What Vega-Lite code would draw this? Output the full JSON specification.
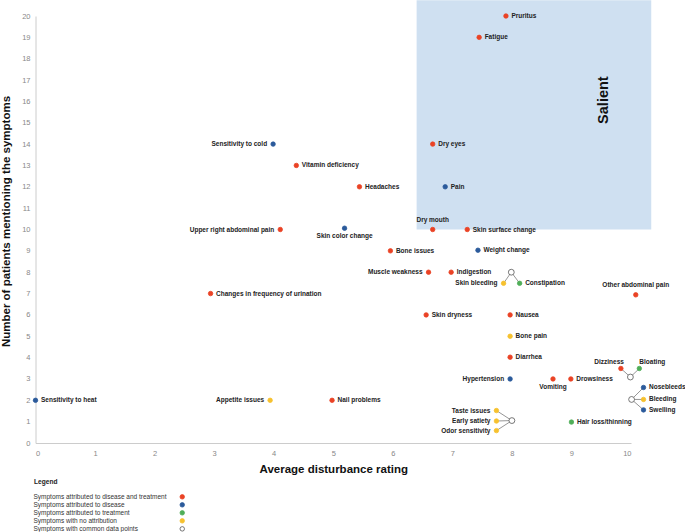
{
  "$schema": "https://vega.github.io/schema/vega-lite/v6.json",
  "width": 595.5,
  "height": 427,
  "autosize": {"type": "none"},
  "padding": {"left": 35.5, "top": 16, "right": 54, "bottom": 89},
  "background": "white",
  "datasets": {
    "symptoms": [
      {"name": "Pruritus", "rating": 7.9, "patients": 20, "attribution": "Symptoms attributed to disease and treatment"},
      {"name": "Fatigue", "rating": 7.45, "patients": 19, "attribution": "Symptoms attributed to disease and treatment"},
      {"name": "Dry eyes", "rating": 6.67, "patients": 14, "attribution": "Symptoms attributed to disease and treatment"},
      {"name": "Sensitivity to cold", "rating": 3.99, "patients": 14, "attribution": "Symptoms attributed to disease"},
      {"name": "Vitamin deficiency", "rating": 4.38, "patients": 13, "attribution": "Symptoms attributed to disease and treatment"},
      {"name": "Headaches", "rating": 5.44, "patients": 12, "attribution": "Symptoms attributed to disease and treatment"},
      {"name": "Pain", "rating": 6.88, "patients": 12, "attribution": "Symptoms attributed to disease"},
      {"name": "Upper right abdominal pain", "rating": 4.11, "patients": 10, "attribution": "Symptoms attributed to disease and treatment"},
      {"name": "Skin color change", "rating": 5.19, "patients": 10.06, "attribution": "Symptoms attributed to disease"},
      {"name": "Dry mouth", "rating": 6.67, "patients": 10, "attribution": "Symptoms attributed to disease and treatment"},
      {"name": "Skin surface change", "rating": 7.25, "patients": 10, "attribution": "Symptoms attributed to disease and treatment"},
      {"name": "Bone issues", "rating": 5.96, "patients": 9, "attribution": "Symptoms attributed to disease and treatment"},
      {"name": "Weight change", "rating": 7.43, "patients": 9.03, "attribution": "Symptoms attributed to disease"},
      {"name": "Muscle weakness", "rating": 6.6, "patients": 8, "attribution": "Symptoms attributed to disease and treatment"},
      {"name": "Indigestion", "rating": 6.98, "patients": 8, "attribution": "Symptoms attributed to disease and treatment"},
      {"name": "Skin bleeding", "rating": 7.86, "patients": 7.48, "attribution": "Symptoms with no attribution"},
      {"name": "Constipation", "rating": 8.13, "patients": 7.48, "attribution": "Symptoms attributed to treatment"},
      {"name": "Changes in frequency of urination", "rating": 2.94, "patients": 7, "attribution": "Symptoms attributed to disease and treatment"},
      {"name": "Other abdominal pain", "rating": 10.08, "patients": 6.94, "attribution": "Symptoms attributed to disease and treatment"},
      {"name": "Skin dryness", "rating": 6.56, "patients": 6, "attribution": "Symptoms attributed to disease and treatment"},
      {"name": "Nausea", "rating": 7.97, "patients": 6, "attribution": "Symptoms attributed to disease and treatment"},
      {"name": "Bone pain", "rating": 7.97, "patients": 5, "attribution": "Symptoms with no attribution"},
      {"name": "Diarrhea", "rating": 7.97, "patients": 4.02, "attribution": "Symptoms attributed to disease and treatment"},
      {"name": "Hypertension", "rating": 7.97, "patients": 3, "attribution": "Symptoms attributed to disease"},
      {"name": "Vomiting", "rating": 8.69, "patients": 3, "attribution": "Symptoms attributed to disease and treatment"},
      {"name": "Drowsiness", "rating": 8.99, "patients": 3, "attribution": "Symptoms attributed to disease and treatment"},
      {"name": "Dizziness", "rating": 9.83, "patients": 3.49, "attribution": "Symptoms attributed to disease and treatment"},
      {"name": "Bloating", "rating": 10.14, "patients": 3.49, "attribution": "Symptoms attributed to treatment"},
      {"name": "Nosebleeds", "rating": 10.21, "patients": 2.6, "attribution": "Symptoms attributed to disease"},
      {"name": "Bleeding", "rating": 10.21, "patients": 2.04, "attribution": "Symptoms with no attribution"},
      {"name": "Swelling", "rating": 10.21, "patients": 1.55, "attribution": "Symptoms attributed to disease"},
      {"name": "Sensitivity to heat", "rating": 0, "patients": 2, "attribution": "Symptoms attributed to disease"},
      {"name": "Appetite issues", "rating": 3.94, "patients": 2, "attribution": "Symptoms with no attribution"},
      {"name": "Nail problems", "rating": 4.98, "patients": 2, "attribution": "Symptoms attributed to disease and treatment"},
      {"name": "Taste issues", "rating": 7.74, "patients": 1.52, "attribution": "Symptoms with no attribution"},
      {"name": "Early satiety", "rating": 7.74, "patients": 1.03, "attribution": "Symptoms with no attribution"},
      {"name": "Odor sensitivity", "rating": 7.74, "patients": 0.58, "attribution": "Symptoms with no attribution"},
      {"name": "Hair loss/thinning", "rating": 9.0, "patients": 0.98, "attribution": "Symptoms attributed to treatment"},
      {"name": "common 1", "rating": 7.99, "patients": 8, "attribution": "Symptoms with common data points"},
      {"name": "common 2", "rating": 9.99, "patients": 3.09, "attribution": "Symptoms with common data points"},
      {"name": "common 3", "rating": 10.01, "patients": 2.04, "attribution": "Symptoms with common data points"},
      {"name": "common 4", "rating": 8.0, "patients": 1.05, "attribution": "Symptoms with common data points"}
    ],
    "links": [
      {"rating": 7.99, "patients": 8, "rating2": 7.86, "patients2": 7.48},
      {"rating": 7.99, "patients": 8, "rating2": 8.13, "patients2": 7.48},
      {"rating": 9.99, "patients": 3.09, "rating2": 9.83, "patients2": 3.49},
      {"rating": 9.99, "patients": 3.09, "rating2": 10.14, "patients2": 3.49},
      {"rating": 10.01, "patients": 2.04, "rating2": 10.21, "patients2": 2.6},
      {"rating": 10.01, "patients": 2.04, "rating2": 10.21, "patients2": 2.04},
      {"rating": 10.01, "patients": 2.04, "rating2": 10.21, "patients2": 1.55},
      {"rating": 8.0, "patients": 1.05, "rating2": 7.74, "patients2": 1.52},
      {"rating": 8.0, "patients": 1.05, "rating2": 7.74, "patients2": 1.03},
      {"rating": 8.0, "patients": 1.05, "rating2": 7.74, "patients2": 0.58}
    ],
    "zone": [
      {"rating": 6.4, "rating2": 10.34, "patients": 10, "patients2": 20.74}
    ],
    "zoneLabel": [
      {"rating": 9.55, "patients": 16.06, "label": "Salient"}
    ]
  },
  "encoding": {
    "x": {
      "field": "rating",
      "type": "quantitative",
      "scale": {"domain": [0, 10], "nice": false, "zero": false},
      "axis": {
        "title": "Average disturbance rating",
        "values": [0, 1, 2, 3, 4, 5, 6, 7, 8, 9, 10],
        "titleY": 20,
        "titleBaseline": "top",
        "labelPadding": 6
      }
    },
    "y": {
      "field": "patients",
      "type": "quantitative",
      "scale": {"domain": [0, 20], "nice": false, "zero": false},
      "axis": {
        "title": "Number of patients mentioning the symptoms",
        "values": [0, 1, 2, 3, 4, 5, 6, 7, 8, 9, 10, 11, 12, 13, 14, 15, 16, 17, 18, 19, 20],
        "titleX": -24.5,
        "titleY": 205,
        "titleAngle": 270,
        "titleBaseline": "bottom",
        "labelPadding": 5.5
      }
    }
  },
  "layer": [
    {
      "data": {"name": "zone"},
      "mark": {"type": "rect", "color": "#cfe0f1"},
      "encoding": {
        "x2": {"field": "rating2"},
        "y2": {"field": "patients2"}
      }
    },
    {
      "data": {"name": "links"},
      "mark": {"type": "rule", "color": "#8a8a8a", "strokeWidth": 0.9},
      "encoding": {
        "x2": {"field": "rating2"},
        "y2": {"field": "patients2"}
      }
    },
    {
      "data": {"name": "symptoms"},
      "mark": {"type": "circle", "opacity": 1, "strokeWidth": 0.8},
      "encoding": {
        "fill": {
          "field": "attribution",
          "type": "nominal",
          "scale": {
            "domain": ["Symptoms attributed to disease and treatment", "Symptoms attributed to disease", "Symptoms attributed to treatment", "Symptoms with no attribution", "Symptoms with common data points"],
            "range": ["#ea4225", "#2b5a9b", "#4fae58", "#f6c12f", "#ffffff"]
          },
          "legend": {
            "title": "Legend",
            "orient": "none",
            "legendX": -1.5,
            "legendY": 463,
            "direction": "vertical",
            "symbolType": "circle",
            "symbolSize": 20,
            "symbolStrokeWidth": 0.8,
            "symbolOffset": 145,
            "labelOffset": -152,
            "rowPadding": -1.4,
            "titlePadding": 8
          }
        },
        "stroke": {
          "field": "attribution",
          "type": "nominal",
          "scale": {
            "domain": ["Symptoms attributed to disease and treatment", "Symptoms attributed to disease", "Symptoms attributed to treatment", "Symptoms with no attribution", "Symptoms with common data points"],
            "range": ["#ea4225", "#2b5a9b", "#4fae58", "#f6c12f", "#555555"]
          },
          "legend": {
            "title": "Legend",
            "orient": "none",
            "legendX": -1.5,
            "legendY": 463,
            "direction": "vertical",
            "symbolType": "circle",
            "symbolSize": 20,
            "symbolStrokeWidth": 0.8,
            "symbolOffset": 145,
            "labelOffset": -152,
            "rowPadding": -1.4,
            "titlePadding": 8
          }
        },
        "size": {
          "condition": {"test": "datum.attribution === 'Symptoms with common data points'", "value": 34},
          "value": 20
        }
      }
    },
    {
      "data": {"name": "symptoms"},
      "transform": [
        {"filter": "datum.attribution !== 'Symptoms with common data points'"},
        {"filter": {"not": {"field": "name", "oneOf": ["Sensitivity to cold", "Upper right abdominal pain", "Muscle weakness", "Skin bleeding", "Hypertension", "Appetite issues", "Taste issues", "Early satiety", "Odor sensitivity", "Dry mouth", "Other abdominal pain", "Skin color change", "Vomiting", "Dizziness", "Bloating"]}}}
      ],
      "mark": {"type": "text", "align": "left", "baseline": "middle", "dx": 5.5, "fontWeight": "bold", "fontSize": 6.5, "fill": "#222222"},
      "encoding": {"text": {"field": "name"}}
    },
    {
      "data": {"name": "symptoms"},
      "transform": [
        {"filter": {"field": "name", "oneOf": ["Sensitivity to cold", "Upper right abdominal pain", "Muscle weakness", "Skin bleeding", "Hypertension", "Appetite issues", "Taste issues", "Early satiety", "Odor sensitivity"]}}
      ],
      "mark": {"type": "text", "align": "right", "baseline": "middle", "dx": -6, "fontWeight": "bold", "fontSize": 6.5, "fill": "#222222"},
      "encoding": {"text": {"field": "name"}}
    },
    {
      "data": {"name": "symptoms"},
      "transform": [
        {"filter": {"field": "name", "oneOf": ["Dry mouth", "Other abdominal pain"]}}
      ],
      "mark": {"type": "text", "align": "center", "baseline": "middle", "dy": -9.5, "fontWeight": "bold", "fontSize": 6.5, "fill": "#222222"},
      "encoding": {"text": {"field": "name"}}
    },
    {
      "data": {"name": "symptoms"},
      "transform": [
        {"filter": {"field": "name", "oneOf": ["Skin color change", "Vomiting"]}}
      ],
      "mark": {"type": "text", "align": "center", "baseline": "middle", "dy": 8, "fontWeight": "bold", "fontSize": 6.5, "fill": "#222222"},
      "encoding": {"text": {"field": "name"}}
    },
    {
      "data": {"name": "symptoms"},
      "transform": [
        {"filter": {"field": "name", "equal": "Dizziness"}}
      ],
      "mark": {"type": "text", "align": "right", "baseline": "middle", "dx": 3, "dy": -6.5, "fontWeight": "bold", "fontSize": 6.5, "fill": "#222222"},
      "encoding": {"text": {"field": "name"}}
    },
    {
      "data": {"name": "symptoms"},
      "transform": [
        {"filter": {"field": "name", "equal": "Bloating"}}
      ],
      "mark": {"type": "text", "align": "left", "baseline": "middle", "dx": 0, "dy": -6.5, "fontWeight": "bold", "fontSize": 6.5, "fill": "#222222"},
      "encoding": {"text": {"field": "name"}}
    },
    {
      "data": {"name": "zoneLabel"},
      "mark": {"type": "text", "angle": 270, "align": "center", "baseline": "middle", "fontSize": 14.5, "fontWeight": "bold", "fill": "#111111"},
      "encoding": {"text": {"field": "label"}}
    }
  ],
  "config": {
    "font": "Liberation Sans",
    "view": {"stroke": null},
    "axis": {
      "grid": false,
      "ticks": false,
      "domainColor": "#cccccc",
      "domainWidth": 1,
      "labelColor": "#888888",
      "labelFontSize": 7.5,
      "labelFont": "Liberation Sans",
      "titleFont": "Liberation Sans",
      "titleFontSize": 11.5,
      "titleFontWeight": "bold",
      "titleColor": "#111111"
    },
    "legend": {
      "labelFont": "Liberation Sans",
      "labelFontSize": 6.5,
      "labelColor": "#333333",
      "labelLimit": 300,
      "titleFont": "Liberation Sans",
      "titleFontSize": 6.6,
      "titleFontWeight": "bold",
      "titleColor": "#222222"
    },
    "text": {"font": "Liberation Sans"}
  }
}
